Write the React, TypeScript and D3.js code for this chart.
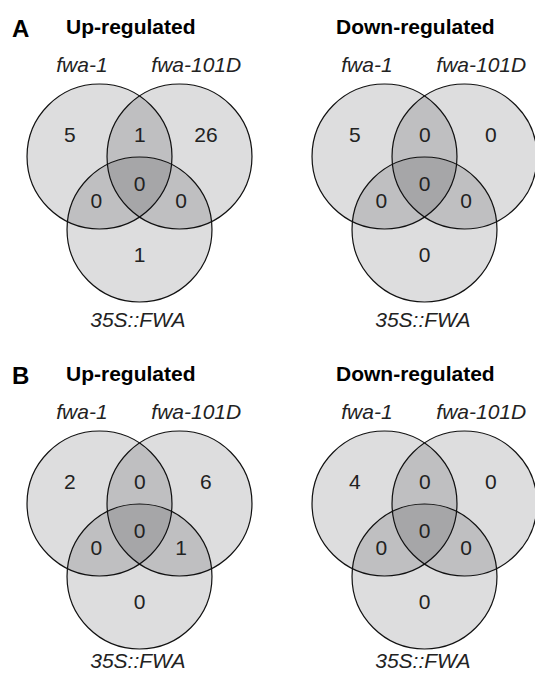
import { useEffect, useRef } from "react";
import * as d3 from "d3";

// region order: fwa-1 only, fwa-1&fwa-101D, fwa-101D only, fwa-1&35S, all three, fwa-101D&35S, 35S only
const regionKeys = ["a", "ab", "b", "ac", "abc", "bc", "c"];
const setNames = ["fwa-1", "fwa-101D", "35S::FWA"];
const panelLetters = ["A", "B"];
const panelTitles = ["Up-regulated", "Down-regulated"];

const aUp = [5, 1, 26, 0, 0, 0, 1];
const aDown = [5, 0, 0, 0, 0, 0, 0];
const bUp = [2, 0, 6, 0, 0, 1, 0];
const bDown = [4, 0, 0, 0, 0, 0, 0];

const panels = [
    { row: 0, col: 0, counts: aUp },
    { row: 0, col: 1, counts: aDown },
    { row: 1, col: 0, counts: bUp },
    { row: 1, col: 1, counts: bDown },
];

const W = 535;
const H = 675;

const App = () => {
    const svgRef = useRef(null);

    useEffect(() => {
        const svg = d3.select(svgRef.current);
        svg.selectAll("*").remove();

        const font = "'Liberation Sans', Arial, Helvetica, sans-serif";
        const fs = 21;

        // circle layout in units of the distance between the two top centres
        const circles = [
            { x: -0.5, y: 0 },
            { x: 0.5, y: 0 },
            { x: 0, y: 0.9125 },
        ];
        const r = 0.906;
        const regionPos = {
            a: [-0.87, -0.27],
            ab: [0.005, -0.27],
            b: [0.83, -0.27],
            ac: [-0.54, 0.55],
            abc: [0, 0.34],
            bc: [0.52, 0.55],
            c: [0, 1.22],
        };

        panels.forEach((p) => {
            const ox = p.col * 285;
            const oy = p.row * 347;
            const x = d3.scaleLinear().domain([0, 1]).range([ox + 139.5, ox + 219.5]);
            const y = d3.scaleLinear().domain([0, 1]).range([oy + 156.5, oy + 236.5]);
            const k = x(1) - x(0);

            const g = svg.append("g");

            // panel letter + title
            if (p.col === 0) {
                g.append("text")
                    .attr("x", ox + 12)
                    .attr("y", oy + 37)
                    .attr("font-family", font)
                    .attr("font-weight", "bold")
                    .attr("font-size", 24)
                    .text(panelLetters[p.row]);
            }
            g.append("text")
                .attr("x", p.col === 0 ? ox + 66 : ox + 51)
                .attr("y", oy + 34)
                .attr("font-family", font)
                .attr("font-weight", "bold")
                .attr("font-size", fs)
                .text(panelTitles[p.col]);

            g.selectAll("circle")
                .data(circles)
                .enter()
                .append("circle")
                .attr("cx", (d) => x(d.x))
                .attr("cy", (d) => y(d.y))
                .attr("r", r * k)
                .attr("fill", "#101018")
                .attr("fill-opacity", 0.14)
                .attr("stroke", "#111")
                .attr("stroke-width", 1.2);

            // set labels
            const labelPos = [
                [-0.72, -1.06],
                [0.71, -1.06],
                [-0.02, p.row === 0 ? 2.13 : 2.05],
            ];
            g.selectAll("text.set")
                .data(setNames)
                .enter()
                .append("text")
                .attr("class", "set")
                .attr("x", (d, i) => x(labelPos[i][0]))
                .attr("y", (d, i) => y(labelPos[i][1]))
                .attr("text-anchor", "middle")
                .attr("font-family", font)
                .attr("font-style", "italic")
                .attr("font-size", fs)
                .attr("fill", "#222")
                .text((d) => d);

            // counts
            g.selectAll("text.count")
                .data(p.counts)
                .enter()
                .append("text")
                .attr("class", "count")
                .attr("x", (d, i) => x(regionPos[regionKeys[i]][0]))
                .attr("y", (d, i) => y(regionPos[regionKeys[i]][1]) + fs * 0.36)
                .attr("text-anchor", "middle")
                .attr("font-family", font)
                .attr("font-size", fs)
                .attr("fill", "#222")
                .text((d) => d);
        });
    }, []);

    return (
        <svg
            ref={svgRef}
            width={W}
            height={H}
            style={{ position: "absolute", left: 0, top: 0, background: "#fff" }}
        ></svg>
    );
};

export default App;
